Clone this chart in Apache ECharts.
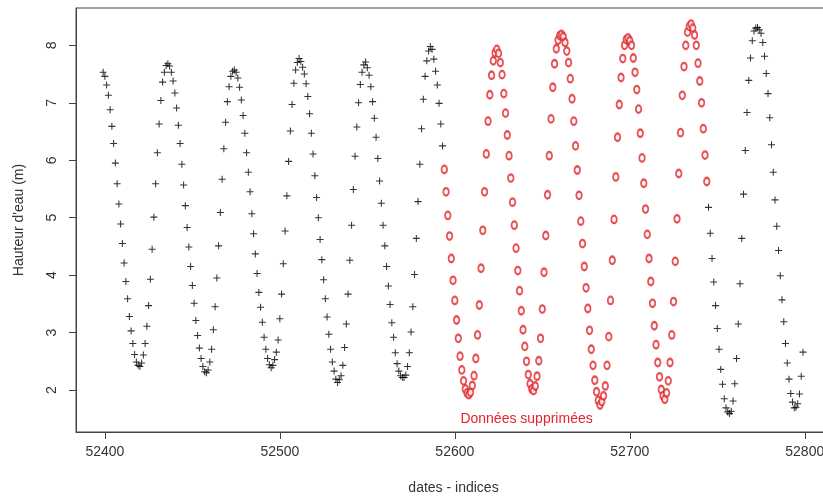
<!DOCTYPE html>
<html>
<head>
<meta charset="utf-8">
<script src="https://cdn.jsdelivr.net/npm/echarts@6/dist/echarts.min.js"></script>
<style>
html,body{margin:0;padding:0;background:#fff;}
#chart{width:823px;height:496px;}
</style>
</head>
<body>
<div id="chart"></div>
<script>
// ---- data ----
const xTicks = [52400, 52500, 52600, 52700, 52800];
const yTicks = [2, 3, 4, 5, 6, 7, 8];
const firstIndex = 52399;            // index of the first measurement
const deletedStart = 52594;          // first deleted index
const deletedEnd = 52744;            // last deleted index
const deletedLabel = 'Données supprimées';

// water heights (m), one value per index, grouped by tide (high to high)
const tide01 = [7.53,7.46,7.31,7.13,6.88,6.59,6.29,5.95,5.59,5.24,4.89,4.55,4.21,3.89,3.59,3.28,3.03,2.81,2.62,2.49,2.43,2.41,2.47,2.61,2.81,3.11,3.47,3.93,4.45,5.01,5.59,6.13,6.63,7.04,7.36,7.53,7.65,7.68];
const tide02 = [7.64,7.53,7.38,7.17,6.91,6.61,6.29,5.93,5.57,5.21,4.83,4.49,4.15,3.82,3.51,3.21,2.95,2.73,2.55,2.41,2.32,2.30,2.35,2.49,2.71,3.05,3.45,3.95,4.51,5.09,5.67,6.20,6.66,7.02,7.28,7.46,7.55,7.57];
const tide03 = [7.53,7.43,7.27,7.05,6.78,6.47,6.13,5.79,5.45,5.07,4.72,4.37,4.03,3.70,3.44,3.18,2.92,2.71,2.55,2.44,2.39,2.43,2.53,2.66,2.87,3.24,3.67,4.20,4.77,5.38,5.98,6.51,6.97,7.34,7.57,7.70,7.77];
const tide04 = [7.72,7.62,7.50,7.33,7.11,6.81,6.47,6.11,5.73,5.35,5.00,4.62,4.27,3.92,3.59,3.27,2.97,2.71,2.49,2.33,2.19,2.13,2.18,2.25,2.43,2.74,3.15,3.67,4.26,4.87,5.49,6.07,6.58,7.00,7.32,7.53,7.66,7.71];
const tide05 = [7.61,7.48,7.28,7.02,6.73,6.40,6.03,5.64,5.25,4.87,4.51,4.15,3.81,3.49,3.17,2.92,2.65,2.46,2.33,2.25,2.22,2.22,2.26,2.41,2.65,3.01,3.45,4.01,4.64,5.28,5.93,6.55,7.06,7.46,7.73,7.90,7.98];
const tide06 = [7.93,7.76,7.55,7.31,6.99,6.63,6.25,5.84,5.45,5.04,4.68,4.29,3.91,3.56,3.22,2.90,2.59,2.35,2.16,2.02,1.95,1.92,1.96,2.08,2.25,2.55,2.96,3.48,4.12,4.78,5.45,6.11,6.68,7.14,7.48,7.73,7.87,7.93];
const tide07 = [7.86,7.70,7.49,7.16,6.82,6.44,6.08,5.69,5.27,4.87,4.47,4.08,3.73,3.38,3.05,2.76,2.50,2.27,2.11,2.02,1.99,2.07,2.24,2.51,2.90,3.41,4.05,4.69,5.40,6.08,6.72,7.27,7.68,7.94,8.09,8.17,8.19];
const tide08 = [8.15,8.05,7.90,7.70,7.42,7.07,6.68,6.25,5.83,5.39,4.94,4.55,4.15,3.78,3.42,3.04,2.71,2.43,2.17,1.97,1.82,1.74,1.80,1.90,2.07,2.43,2.93,3.56,4.26,4.97,5.71,6.40,6.97,7.44,7.77,8.00,8.10,8.13];
const tide09 = [8.08,8.00,7.78,7.53,7.23,6.89,6.47,6.04,5.60,5.15,4.71,4.29,3.89,3.51,3.12,2.79,2.48,2.23,2.01,1.90,1.84,1.95,2.16,2.48,2.96,3.54,4.24,4.98,5.77,6.48,7.13,7.63,8.00,8.23,8.33,8.37];
const tide10 = [8.30,8.18,8.00,7.69,7.38,7.00,6.55,6.09,5.63,5.18,4.73,4.29,3.88,3.47,3.07,2.71,2.36,2.10,1.85,1.69,1.62,1.59,1.63,1.81,2.11,2.55,3.15,3.85,4.64,5.41,6.17,6.83,7.39,7.78,8.08,8.25,8.30,8.31];
const tide11 = [8.27,8.21,8.05,7.81,7.51,7.16,6.74,6.27,5.79,5.31,4.85,4.43,3.99,3.57,3.19,2.81,2.47,2.19,1.94,1.79,1.69,1.70,1.76,1.93,2.24,2.66];

// ---- build ----
const heights = [].concat(tide01, tide02, tide03, tide04, tide05, tide06, tide07, tide08, tide09, tide10, tide11);
const points = heights.map((h, i) => [firstIndex + i, h]);
const kept = points.filter(p => p[0] < deletedStart || p[0] > deletedEnd);
const removed = points.filter(p => p[0] >= deletedStart && p[0] <= deletedEnd);

const FONT = 'Liberation Sans, Arial, sans-serif';
const TEXT = '#333';
const AXIS = '#444';
const RED = '#e2262c';
const PLUS = 'path://M0,4.25H10V5.75H0Z M4.25,0H5.75V10H4.25Z';

const chart = echarts.init(document.getElementById('chart'), null, {renderer: 'canvas'});
chart.setOption({
  animation: false,
  backgroundColor: '#fff',
  grid: {left: 76, top: 8, right: -8, bottom: 64, outerBoundsMode: 'none', containLabel: false,
         show: true, borderColor: AXIS, borderWidth: 1, backgroundColor: 'transparent'},
  xAxis: {
    type: 'value', min: 52383.5, max: 52815,
    name: 'dates - indices', nameLocation: 'middle', nameGap: 49,
    nameTextStyle: {fontFamily: FONT, fontSize: 14, color: TEXT},
    axisLine: {show: true, lineStyle: {color: AXIS, width: 1}},
    axisTick: {show: true, length: 7, lineStyle: {color: AXIS}, customValues: xTicks},
    axisLabel: {customValues: xTicks, margin: 13, fontFamily: FONT, fontSize: 14, color: TEXT, formatter: v => String(v)},
    splitLine: {show: false}
  },
  yAxis: {
    type: 'value', min: 1.27, max: 8.65,
    name: "Hauteur d'eau (m)", nameLocation: 'middle', nameGap: 50, nameRotate: 90,
    nameTextStyle: {fontFamily: FONT, fontSize: 14, color: TEXT},
    axisLine: {show: true, lineStyle: {color: AXIS, width: 1}},
    axisTick: {show: true, length: 7, lineStyle: {color: AXIS}, customValues: yTicks},
    axisLabel: {customValues: yTicks, rotate: 90, margin: 17, fontFamily: FONT, fontSize: 14, color: TEXT},
    splitLine: {show: false}
  },
  series: [
    {
      type: 'scatter', name: 'conservées', data: kept,
      symbol: PLUS, symbolSize: 7,
      itemStyle: {color: '#000'}
    },
    {
      type: 'scatter', name: 'supprimées', data: removed,
      symbol: 'emptyCircle', symbolSize: [5.5, 7.5],
      itemStyle: {color: RED, borderColor: RED, borderWidth: 0.9},
      markPoint: {
        symbol: 'circle', symbolSize: 0,
        label: {show: true, position: 'inside', formatter: deletedLabel, fontFamily: FONT, fontSize: 14, color: RED},
        data: [{coord: [52641, 1.49]}]
      }
    }
  ]
});
</script>
</body>
</html>
